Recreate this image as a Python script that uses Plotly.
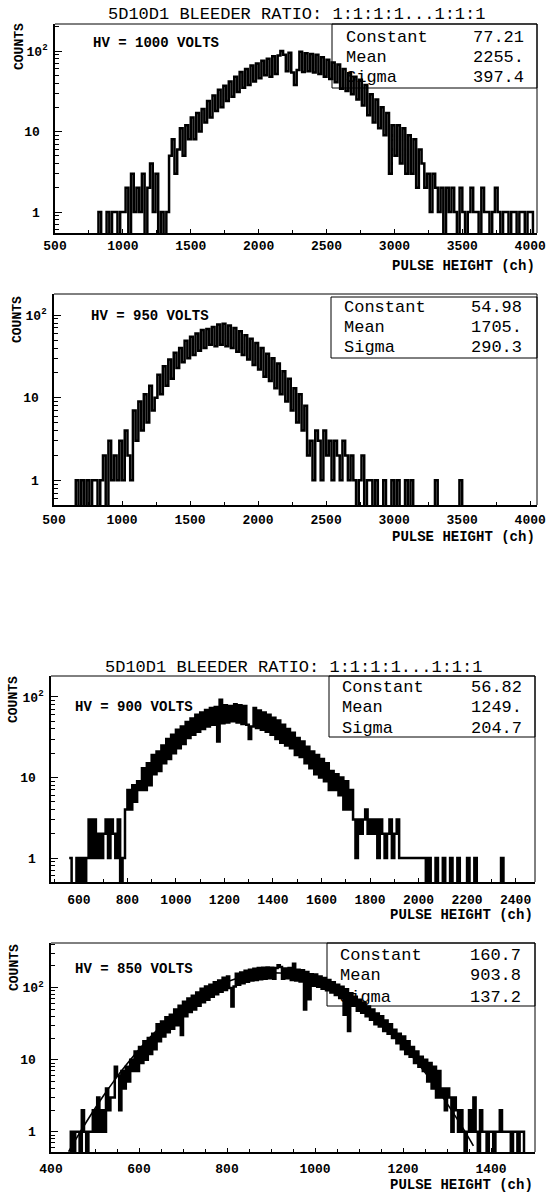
import plotly.graph_objects as go

W, H = 548, 1194
FONT = "Liberation Mono"

title_text = "5D10D1 BLEEDER RATIO: 1:1:1:1...1:1:1"
stat_names = ["Constant", "Mean", "Sigma"]
x_axis_title = "PULSE HEIGHT (ch)"
y_axis_title = "COUNTS"
y_tick_vals = [1, 10, 100]
y_tick_text = ["1\u00a0", "10\u00a0", "10<sup>2</sup>"]

# ---------------- Panel 1 : HV = 1000 V ----------------
p1_hv = "HV = 1000 VOLTS"
p1_stats = ["77.21", "2255.", "397.4"]
p1_start, p1_binw = 800, 20
p1_counts = [
    0, 1, 0, 0, 1, 0, 1, 1, 0, 1,
    1, 2, 0, 3, 1, 2, 1, 3, 0, 2,
    4, 1, 3, 0, 1, 0, 1, 5, 8, 3,
    6, 11, 5, 12, 8, 15, 8, 17, 10, 19,
    13, 24, 15, 28, 18, 33, 20, 37, 24, 42,
    27, 48, 31, 55, 35, 60, 38, 66, 42, 70,
    46, 76, 50, 80, 48, 86, 52, 88, 100, 90,
    56, 95, 54, 38, 58, 98, 55, 94, 56, 92,
    54, 90, 52, 84, 48, 78, 45, 72, 41, 68,
    34, 60, 32, 53, 29, 48, 25, 44, 21, 38,
    16, 29, 13, 25, 11, 20, 9, 17, 3, 12,
    5, 12, 4, 11, 3, 9, 3, 8, 2, 6,
    4, 2, 3, 1, 3, 2, 1, 2, 0, 2,
    1, 2, 1, 0, 2, 1, 0, 1, 2, 1,
    1, 0, 2, 1, 1, 0, 1, 2, 1, 0,
    1, 1, 0, 1, 1, 0, 1, 1, 0, 1,
    1, 0,
]
p1_xticks = [500, 1000, 1500, 2000, 2500, 3000, 3500, 4000]

# ---------------- Panel 2 : HV = 950 V ----------------
p2_hv = "HV = 950 VOLTS"
p2_stats = ["54.98", "1705.", "290.3"]
p2_start, p2_binw = 640, 20
p2_counts = [
    0, 1, 0, 1, 0, 1, 0, 1, 1, 0,
    1, 2, 0, 3, 1, 2, 1, 3, 1, 4,
    2, 1, 7, 3, 9, 4, 11, 5, 14, 7,
    10, 19, 11, 24, 14, 29, 17, 35, 23, 40,
    27, 49, 30, 55, 33, 60, 37, 66, 40, 68,
    44, 72, 42, 77, 44, 79, 42, 75, 40, 70,
    36, 64, 33, 57, 29, 52, 25, 46, 22, 40,
    18, 34, 16, 30, 13, 26, 11, 21, 9, 17,
    7, 13, 5, 11, 4, 8, 2, 3, 1, 4,
    3, 1, 4, 2, 3, 1, 3, 2, 1, 3,
    2, 1, 2, 1, 0, 1, 2, 0, 1, 1,
    0, 1, 0, 0, 1, 0, 0, 1, 0, 1,
    0, 0, 1, 0, 1, 0, 0, 0, 0, 0,
    0, 0, 0, 1, 0, 0, 0, 0, 0, 0,
    0, 0, 1, 0, 0,
]
p2_xticks = [500, 1000, 1500, 2000, 2500, 3000, 3500, 4000]

# ---------------- Panel 3 : HV = 900 V ----------------
p3_hv = "HV = 900 VOLTS"
p3_stats = ["56.82", "1249.", "204.7"]
p3_start, p3_binw = 560, 10
p3_counts = [
    1, 0, 0, 1, 0, 1, 0, 1, 3, 1,
    3, 1, 2, 1, 2, 3, 1, 3, 2, 1,
    3, 0, 1, 4, 7, 4, 8, 5, 9, 7,
    13, 7, 15, 8, 19, 11, 21, 12, 25, 15,
    30, 17, 34, 20, 39, 23, 43, 26, 49, 31,
    54, 34, 60, 37, 64, 40, 69, 43, 73, 45,
    75, 28, 92, 47, 79, 48, 77, 50, 81, 48,
    79, 46, 77, 45, 30, 43, 73, 41, 68, 39,
    64, 37, 60, 34, 55, 30, 51, 27, 45, 25,
    40, 23, 36, 19, 31, 18, 28, 15, 24, 13,
    21, 11, 19, 10, 17, 9, 15, 7, 12, 7,
    11, 6, 10, 4, 9, 4, 7, 3, 1, 3,
    2, 3, 4, 2, 3, 2, 3, 1, 3, 2,
    1, 2, 3, 1, 2, 3, 1, 1, 1, 1,
    1, 1, 1, 1, 1, 1, 1, 0, 1, 0,
    0, 1, 0, 0, 1, 0, 0, 1, 0, 0,
    1, 0, 0, 0, 1, 0, 0, 1, 0, 0,
    0, 0, 0, 0, 0, 0, 0, 0, 1, 0,
]
p3_xticks = [600, 800, 1000, 1200, 1400, 1600, 1800, 2000, 2200, 2400]

# ---------------- Panel 4 : HV = 850 V ----------------
p4_hv = "HV = 850 VOLTS"
p4_stats = ["160.7", "903.8", "137.2"]
p4_start, p4_binw = 440, 5
p4_counts = [
    0, 1, 0, 1, 1, 0, 2, 1, 0, 1,
    1, 2, 1, 3, 1, 2, 1, 4, 2, 3,
    3, 8, 6, 2, 7, 4, 8, 5, 10, 7,
    13, 7, 15, 9, 18, 10, 20, 12, 23, 14,
    31, 18, 34, 21, 39, 24, 42, 27, 50, 30,
    56, 22, 64, 40, 71, 46, 77, 50, 86, 56,
    97, 63, 104, 68, 110, 75, 119, 81, 126, 88,
    137, 93, 143, 99, 55, 104, 156, 110, 163, 115,
    172, 121, 178, 126, 183, 128, 187, 131, 189, 133,
    191, 135, 189, 133, 187, 205, 193, 133, 185, 135,
    187, 128, 215, 126, 178, 122, 174, 50, 165, 69,
    154, 106, 152, 103, 143, 97, 136, 92, 128, 86,
    119, 79, 110, 72, 103, 42, 95, 25, 84, 56,
    75, 48, 68, 45, 62, 40, 55, 36, 50, 31,
    44, 29, 40, 25, 35, 23, 31, 20, 26, 17,
    23, 14, 21, 12, 18, 11, 15, 9, 13, 8,
    11, 7, 10, 5, 9, 4, 8, 3, 7, 3,
    4, 2, 4, 3, 1, 3, 2, 1, 2, 1,
    0, 1, 2, 1, 3, 1, 0, 2, 1, 1,
    0, 1, 1, 0, 1, 1, 2, 1, 1, 1,
    1, 0, 1, 1, 0, 1, 1, 0, 0, 0,
]
p4_xticks = [400, 600, 800, 1000, 1200, 1400]
p4_fit_x = [440, 460, 480, 500, 520, 540, 560, 580, 600, 620, 640, 660, 680, 700,
            720, 740, 760, 780, 800, 820, 840, 860, 880, 900, 920, 940, 960, 980,
            1000, 1020, 1040, 1060, 1080, 1100, 1120, 1140, 1160, 1180, 1200,
            1220, 1240, 1260, 1280, 1300, 1320, 1340, 1360]
p4_fit_y = [0.53, 0.86, 1.36, 2.11, 3.21, 4.78, 6.96, 9.92, 13.85, 18.92, 25.31,
            33.14, 42.48, 53.32, 65.51, 78.79, 92.79, 106.96, 120.70, 133.36,
            144.23, 152.71, 158.30, 160.64, 159.58, 155.20, 147.77, 137.73,
            125.68, 112.27, 98.18, 84.05, 70.45, 57.80, 46.43, 36.51, 28.11,
            21.18, 15.63, 11.29, 7.98, 5.53, 3.75, 2.48, 1.61, 1.03, 0.64]

# ---------------- layout (pixel geometry) ----------------
panels = [
    dict(counts=p1_counts, start=p1_start, bw=p1_binw, hv=p1_hv, stats=p1_stats,
         xticks=p1_xticks, l=55, r=537, t=24, b=233, xr=[500, 4050], yr=[-0.26, 2.336],
         xminor=250, title_y=15, hv_xy=(91, 43), box=(332, 24, 88), rows=(37, 57, 77),
         lab_x=344, val_x=526, xlab_y=266, cnt=(19, 47), standoff=0),
    dict(counts=p2_counts, start=p2_start, bw=p2_binw, hv=p2_hv, stats=p2_stats,
         xticks=p2_xticks, l=54, r=537, t=294, b=505, xr=[500, 4050], yr=[-0.30, 2.257],
         xminor=250, title_y=None, hv_xy=(89, 316), box=(331, 297, 358), rows=(308, 328, 348),
         lab_x=342, val_x=524, xlab_y=537, cnt=(17, 320), standoff=2),
    dict(counts=p3_counts, start=p3_start, bw=p3_binw, hv=p3_hv, stats=p3_stats,
         xticks=p3_xticks, l=51, r=535, t=676, b=882, xr=[485, 2480], yr=[-0.298, 2.26],
         xminor=100, title_y=667, hv_xy=(73, 707), box=(329, 676, 737), rows=(687, 707, 728),
         lab_x=340, val_x=524, xlab_y=915, cnt=(14, 700), standoff=5),
    dict(counts=p4_counts, start=p4_start, bw=p4_binw, hv=p4_hv, stats=p4_stats,
         xticks=p4_xticks, l=51, r=535, t=943, b=1152, xr=[400, 1500], yr=[-0.28, 2.62],
         xminor=50, title_y=None, hv_xy=(73, 969), box=(327, 943, 1006), rows=(956, 976, 997),
         lab_x=338, val_x=523, xlab_y=1185, cnt=(14, 968), standoff=4),
]

FLOOR = 0.1  # empty bins are drawn below the axis floor


def fx(px):
    return px / W


def fy(py):
    return 1 - py / H


fig = go.Figure()
annotations = []
shapes = []
layout_axes = {}

for i, p in enumerate(panels, start=1):
    xs = [p["start"] + k * p["bw"] for k in range(len(p["counts"]) + 1)]
    ys = [c if c > 0 else FLOOR for c in p["counts"]]
    ys.append(ys[-1])
    xname = "x" if i == 1 else f"x{i}"
    yname = "y" if i == 1 else f"y{i}"
    fig.add_trace(go.Scatter(x=xs, y=ys, mode="lines", line=dict(color="black", width=2.5, shape="hv"),
                             xaxis=xname, yaxis=yname, hoverinfo="skip"))
    if i == 4:
        fig.add_trace(go.Scatter(x=p4_fit_x, y=p4_fit_y, mode="lines",
                                 line=dict(color="black", width=1.6, shape="spline"),
                                 xaxis=xname, yaxis=yname, hoverinfo="skip"))

    axkey = "xaxis" if i == 1 else f"xaxis{i}"
    aykey = "yaxis" if i == 1 else f"yaxis{i}"
    layout_axes[axkey] = dict(
        domain=[fx(p["l"]), fx(p["r"])], range=p["xr"], anchor=yname, automargin=False,
        showline=True, linecolor="black", linewidth=1.5, mirror=False,
        ticks="inside", ticklen=4, tickwidth=1, tickcolor="black",
        tickmode="array", tickvals=p["xticks"], ticktext=[str(v) for v in p["xticks"]],
        tickfont=dict(family=FONT, size=13, color="black", weight="bold"),
        ticklabelstandoff=p["standoff"],
        minor=dict(ticks="inside", ticklen=3, tickcolor="black", tickmode="linear",
                   tick0=p["xticks"][0], dtick=p["xminor"], showgrid=False),
        showgrid=False, zeroline=False, fixedrange=True,
    )
    layout_axes[aykey] = dict(
        domain=[fy(p["b"]), fy(p["t"])], type="log", range=p["yr"], anchor=xname,
        automargin=False,
        showline=True, linecolor="black", linewidth=1.5, mirror=False,
        ticks="inside", ticklen=7, tickwidth=1, tickcolor="black",
        tickmode="array", tickvals=y_tick_vals, ticktext=y_tick_text,
        tickfont=dict(family=FONT, size=13, color="black", weight="bold"),
        ticklabelstandoff=3,
        minor=dict(ticks="inside", ticklen=4, tickcolor="black", dtick="D1", showgrid=False),
        showgrid=False, zeroline=False, fixedrange=True,
    )

    # frame top & right
    shapes.append(dict(type="line", xref="paper", yref="paper", x0=fx(p["l"]), x1=fx(p["r"]),
                       y0=fy(p["t"]), y1=fy(p["t"]), line=dict(color="black", width=1)))
    shapes.append(dict(type="line", xref="paper", yref="paper", x0=fx(p["r"]), x1=fx(p["r"]),
                       y0=fy(p["t"]), y1=fy(p["b"]), line=dict(color="black", width=1)))
    # statistics box
    bx, bt, bb = p["box"]
    shapes.append(dict(type="rect", xref="paper", yref="paper", x0=fx(bx), x1=fx(p["r"]),
                       y0=fy(bb), y1=fy(bt), line=dict(color="black", width=1),
                       fillcolor="rgba(0,0,0,0)"))
    for name, val, ry in zip(stat_names, p["stats"], p["rows"]):
        annotations.append(dict(xref="paper", yref="paper", x=fx(p["lab_x"]), y=fy(ry),
                                text=name, showarrow=False, xanchor="left", yanchor="middle",
                                font=dict(family=FONT, size=17, color="black")))
        annotations.append(dict(xref="paper", yref="paper", x=fx(p["val_x"]), y=fy(ry),
                                text=val, showarrow=False, xanchor="right", yanchor="middle",
                                font=dict(family=FONT, size=17, color="black")))
    # HV label
    annotations.append(dict(xref="paper", yref="paper", x=fx(p["hv_xy"][0]), y=fy(p["hv_xy"][1]),
                            text=p["hv"], showarrow=False, xanchor="left", yanchor="middle",
                            font=dict(family=FONT, size=14, color="black", weight="bold")))
    # axis titles
    annotations.append(dict(xref="paper", yref="paper", x=fx(p["r"]), y=fy(p["xlab_y"]),
                            text=x_axis_title, showarrow=False, xanchor="right", yanchor="middle",
                            font=dict(family=FONT, size=14, color="black", weight="bold")))
    annotations.append(dict(xref="paper", yref="paper", x=fx(p["cnt"][0]), y=fy(p["cnt"][1]),
                            text=y_axis_title, showarrow=False, textangle=-90,
                            xanchor="center", yanchor="middle",
                            font=dict(family=FONT, size=13, color="black", weight="bold")))
    if p["title_y"] is not None:
        annotations.append(dict(xref="paper", yref="paper", x=fx((p["l"] + p["r"]) / 2),
                                y=fy(p["title_y"]), text=title_text, showarrow=False,
                                xanchor="center", yanchor="middle",
                                font=dict(family=FONT, size=17, color="black")))

fig.update_layout(
    width=W, height=H, margin=dict(l=0, r=0, t=0, b=0),
    paper_bgcolor="white", plot_bgcolor="white", showlegend=False,
    annotations=annotations, shapes=shapes, **layout_axes,
)

fig.write_html("out.html", config={"displayModeBar": False},
               post_script="document.body.style.margin='0px';")
